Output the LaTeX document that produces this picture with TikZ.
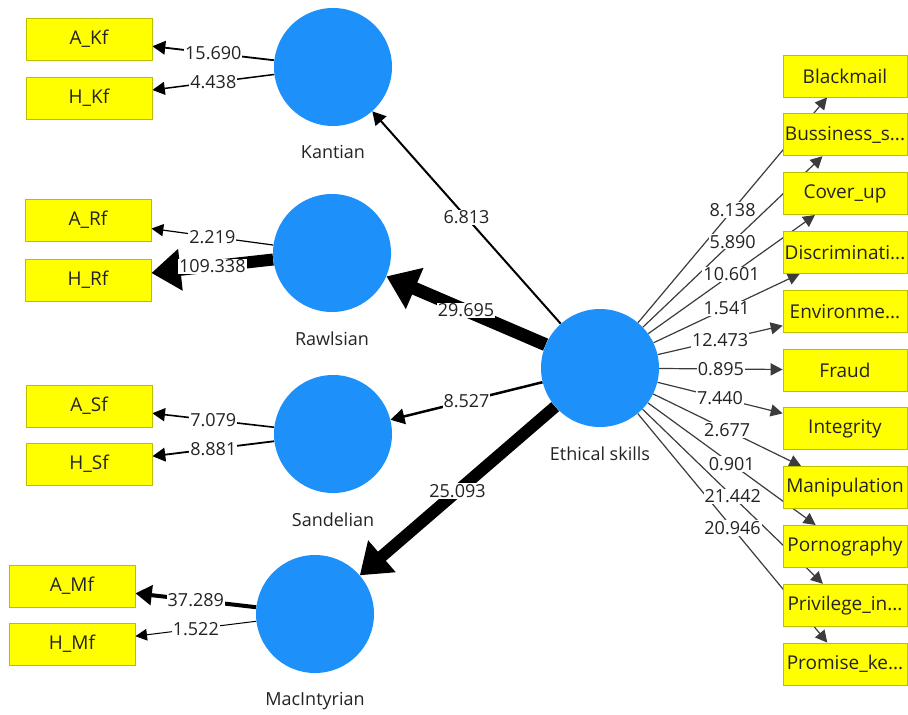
\documentclass[tikz,border=0pt]{standalone}
\usepackage{fontspec}
\setmainfont{Open Sans}
\usetikzlibrary{arrows.meta,positioning,backgrounds}
\definecolor{plsblue}{RGB}{30,144,250}
\definecolor{plsyellow}{RGB}{255,255,0}
\definecolor{plsedge}{RGB}{190,190,0}
\definecolor{plstext}{RGB}{35,35,35}
\definecolor{plsline}{RGB}{60,60,60}
\newcommand\trunc{.\kern0pt.\kern0pt.}
\begin{document}
\begin{tikzpicture}[x=1pt,y=-1pt,
  font=\fontsize{18}{20}\selectfont, text=plstext,
  latent/.style={circle, fill=plsblue, minimum size=118pt, inner sep=0pt},
  lvname/.style={below=16pt of #1},
  item/.style={rectangle, fill=plsyellow, draw=plsedge, line width=0.8pt,
    minimum width=126pt, minimum height=42pt, inner sep=0pt,
    font=\fontsize{19}{21}\selectfont},
  load/.style={line width=#1, -{Triangle[length=10pt 1.6, width=9pt 2.6]}},
  coef/.style={fill=white, inner sep=1pt}]
  \useasboundingbox (0,0) rectangle (908,715);
  % constructs
  \node[latent] (kant) at (333,67) {};
  \node[lvname=kant] (kantlbl) {Kantian};
  \node[latent] (rawl) at (332,253) {};
  \node[lvname=rawl] (rawllbl) {Rawlsian};
  \node[latent] (sand) at (333,434) {};
  \node[lvname=sand] (sandlbl) {Sandelian};
  \node[latent] (mac) at (315,614) {};
  \node[lvname=mac] (maclbl) {MacIntyrian};
  \node[latent] (eth) at (600,368) {};
  \node[lvname=eth] (ethlbl) {Ethical skills};
  % indicators, left
  \node[item] (akf) at (89,39) {A\_Kf};
  \node[item] (hkf) at (89,98) {H\_Kf};
  \node[item] (arf) at (88,220) {A\_Rf};
  \node[item] (hrf) at (88,280) {H\_Rf};
  \node[item] (asf) at (89,406) {A\_Sf};
  \node[item] (hsf) at (89,464) {H\_Sf};
  \node[item] (amf) at (72,586) {A\_Mf};
  \node[item] (hmf) at (72,644) {H\_Mf};
  % indicators, right
  \foreach \name [count=\i from 0] in {Blackmail, Bussiness\_s\trunc, Cover\_up,
      Discriminati\trunc, Environme\trunc, Fraud, Integrity, Manipulation,
      Pornography, Privilege\_in\trunc, Promise\_ke\trunc}
    \node[item, minimum width=124pt] (b\i) at (845,{76+58.8*\i}) {\name};
  % paths and coefficients
  \begin{scope}[on background layer]
    \foreach \src/\tgt/\w in {kant/akf/1.8, kant/hkf/1.5, rawl/arf/1.2,
        rawl/hrf/12, sand/asf/1.6, sand/hsf/1.8, mac/amf/4, mac/hmf/1,
        eth/kant/2, eth/rawl/13, eth/sand/2.5, eth/mac/12}
      \draw[load=\w] (\src) -- (\tgt);
    \foreach \i in {0,...,10}
      \draw[load=1.2, plsline] (eth) -- (b\i);
    \foreach \src/\tgt/\val in {kant/akf/15.690, kant/hkf/4.438,
        rawl/arf/2.219, rawl/hrf/109.338, sand/asf/7.079, sand/hsf/8.881,
        mac/amf/37.289, mac/hmf/1.522, eth/kant/6.813, eth/rawl/29.695,
        eth/sand/8.527, eth/mac/25.093}
      \path (\src) -- node[coef] {\val} (\tgt);
    \foreach \val [count=\i from 0] in {8.138, 5.890, 10.601, 1.541, 12.473,
        0.895, 7.440, 2.677, 0.901, 21.442, 20.946}
      \path (eth) -- node[coef] {\val} (b\i);
  \end{scope}
\end{tikzpicture}
\end{document}
